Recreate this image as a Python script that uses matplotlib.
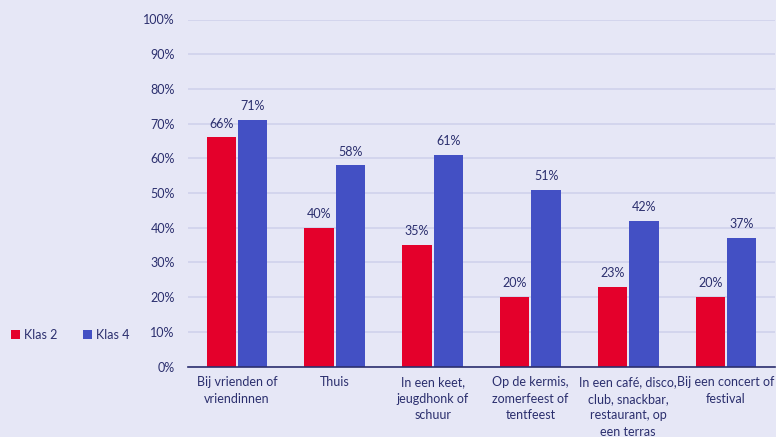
import matplotlib
matplotlib.use("Agg")
import matplotlib.pyplot as plt
import numpy as np

categories = ["Bij vrienden of\nvriendinnen", "Thuis", "In een keet,\njeugdhonk of\nschuur",
              "Op de kermis,\nzomerfeest of\ntentfeest", "In een café, disco,\nclub, snackbar,\nrestaurant, op\neen terras",
              "Bij een concert of\nfestival"]
klas2 = [66, 40, 35, 20, 23, 20]
klas4 = [71, 58, 61, 51, 42, 37]
series_names = ["Klas 2", "Klas 4"]
yticks = [0, 10, 20, 30, 40, 50, 60, 70, 80, 90, 100]

bg = "#e6e7f6"
txt = "#2b2f6e"
red = "#e4002b"
blue = "#4350c4"
grid = "#d0d2ec"

plt.rcParams['font.family'] = ['Lato', 'DejaVu Sans']

fig = plt.figure(figsize=(7.76, 4.37), dpi=100)
fig.patch.set_facecolor(bg)
ax = fig.add_axes([188 / 776, 1 - 366.5 / 437, 587 / 776, 347 / 437])
ax.set_facecolor(bg)

x = np.arange(len(categories))
w = 0.30
g = 0.01
b1 = ax.bar(x - w / 2 - g, klas2, w, color=red, label=series_names[0], zorder=3)
b2 = ax.bar(x + w / 2 + g, klas4, w, color=blue, label=series_names[1], zorder=3)
for bars, vals in ((b1, klas2), (b2, klas4)):
    for r, v in zip(bars, vals):
        ax.text(r.get_x() + r.get_width() / 2, v + 2.2, f"{v}%", ha="center", va="bottom",
                fontsize=9, color=txt)

ax.set_xlim(-0.5, len(categories) - 0.5)
ax.set_ylim(0, 100)
ax.set_yticks(yticks)
ax.set_yticklabels([f"{t}%" for t in yticks], fontsize=9, color=txt)
ax.set_xticks(x)
ax.set_xticklabels(categories, fontsize=9, color=txt, linespacing=1.45)
ax.tick_params(axis="both", length=0)
ax.tick_params(axis="y", pad=9.5)
ax.tick_params(axis="x", pad=7)
ax.grid(axis="y", color=grid, linewidth=1.2, zorder=0)
for s in ["top", "right", "left"]:
    ax.spines[s].set_visible(False)
ax.spines["bottom"].set_color(txt)
ax.spines["bottom"].set_linewidth(1.2)
ax.spines["bottom"].set_zorder(4)

fig.legend(handles=[b1, b2], labels=series_names, loc="center left",
           bbox_to_anchor=(0 / 776, 1 - 335 / 437), ncol=2, frameon=False,
           fontsize=9, labelcolor=txt, handlelength=0.7, handleheight=0.7,
           handletextpad=0.35, columnspacing=2.0)

fig.savefig("out.png", dpi=100, facecolor=bg)
